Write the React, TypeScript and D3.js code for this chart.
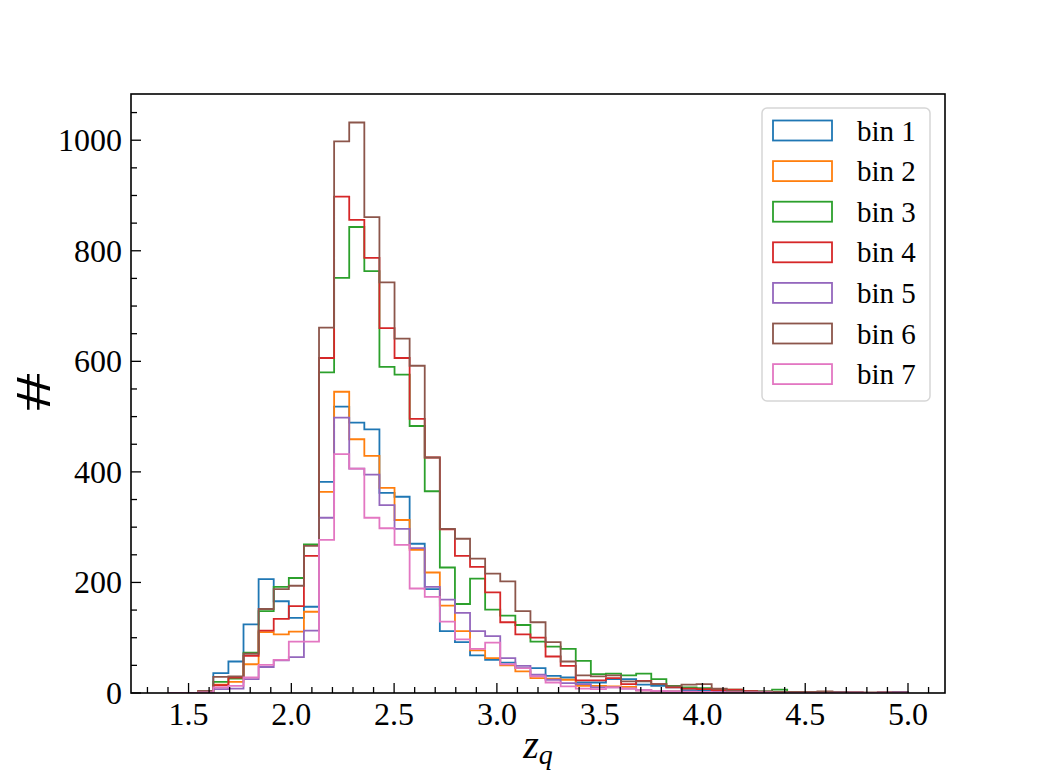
import React, { useEffect, useRef } from 'react';
import * as d3 from 'd3';

// counts per z_q bin for each of the seven selection bins
const binLo = 1.4;
const binHi = 5.0;
const nBins = 49;

const bin1 = [0, 0, 1, 36, 57, 124, 206, 166, 136, 156, 382, 518, 489, 477, 362, 355, 270, 188, 112, 92, 68, 60, 55, 45, 45, 31, 28, 19, 19, 25, 25, 15, 13, 10, 5, 5, 3, 4, 2, 2, 1, 1, 1, 0, 1, 0, 0, 0, 0];
const bin2 = [0, 0, 4, 15, 20, 52, 110, 106, 111, 147, 364, 545, 459, 429, 371, 313, 259, 218, 158, 112, 77, 63, 50, 39, 27, 26, 24, 13, 13, 12, 11, 5, 3, 3, 2, 2, 1, 1, 1, 0, 1, 0, 0, 0, 0, 0, 0, 0, 0];
const bin3 = [0, 0, 2, 20, 26, 73, 148, 192, 208, 269, 580, 751, 843, 763, 590, 576, 483, 365, 227, 161, 207, 151, 140, 123, 93, 84, 80, 58, 34, 35, 32, 35, 25, 13, 10, 9, 5, 6, 4, 3, 6, 2, 1, 1, 1, 0, 0, 0, 0];
const bin4 = [0, 0, 1, 14, 28, 67, 113, 134, 157, 248, 606, 898, 856, 787, 660, 606, 496, 426, 296, 248, 228, 182, 128, 106, 100, 66, 49, 23, 23, 27, 16, 22, 16, 10, 8, 7, 5, 6, 4, 2, 2, 1, 1, 1, 1, 1, 0, 1, 1];
const bin5 = [0, 0, 1, 7, 8, 25, 47, 59, 65, 113, 317, 498, 406, 395, 340, 297, 262, 192, 169, 145, 112, 103, 63, 49, 33, 24, 18, 16, 10, 10, 8, 5, 4, 3, 3, 2, 2, 1, 1, 1, 1, 1, 1, 1, 1, 1, 0, 1, 2];
const bin6 = [0, 0, 4, 29, 30, 71, 152, 188, 194, 266, 661, 998, 1032, 861, 743, 641, 592, 426, 297, 279, 243, 216, 202, 148, 128, 92, 57, 32, 30, 32, 21, 21, 16, 12, 15, 16, 8, 4, 3, 3, 2, 2, 2, 3, 1, 1, 1, 1, 1];
const bin7 = [0, 0, 1, 10, 13, 28, 51, 60, 93, 93, 277, 432, 406, 317, 298, 268, 189, 174, 129, 97, 80, 91, 52, 45, 30, 19, 12, 8, 7, 10, 8, 5, 4, 3, 2, 2, 1, 1, 1, 1, 0, 0, 0, 0, 0, 0, 0, 0, 0];

const seriesNames = ['bin 1', 'bin 2', 'bin 3', 'bin 4', 'bin 5', 'bin 6', 'bin 7'];
const seriesCounts = [bin1, bin2, bin3, bin4, bin5, bin6, bin7];
const colors = ['#1f77b4', '#ff7f0e', '#2ca02c', '#d62728', '#9467bd', '#8c564b', '#e377c2'];

const xMajor = [1.5, 2.0, 2.5, 3.0, 3.5, 4.0, 4.5, 5.0];
const yMajor = [0, 200, 400, 600, 800, 1000];

const W = 1050;
const H = 780;
const M = { left: 131, right: 945, top: 94, bottom: 693 };
const FONT = '"Liberation Serif", "Times New Roman", serif';

export default function App() {
  const ref = useRef<SVGSVGElement>(null);

  useEffect(() => {
    const svg = d3.select(ref.current);
    svg.selectAll('*').remove();

    const edges = d3.range(nBins + 1).map((i) => binLo + (i * (binHi - binLo)) / nBins);
    const pad = 0.05 * (binHi - binLo);
    const yMax = d3.max(seriesCounts, (s) => d3.max(s)) as number;

    const x = d3.scaleLinear().domain([binLo - pad, binHi + pad]).range([M.left, M.right]);
    const y = d3.scaleLinear().domain([0, yMax * 1.05]).range([M.bottom, M.top]);

    svg.append('defs').append('clipPath').attr('id', 'plot-clip')
      .append('rect')
      .attr('x', M.left).attr('y', M.top)
      .attr('width', M.right - M.left).attr('height', M.bottom - M.top);

    const line = d3.line<[number, number]>()
      .x((d) => x(d[0]))
      .y((d) => y(d[1]));

    const hist = svg.append('g').attr('clip-path', 'url(#plot-clip)');
    seriesCounts.forEach((counts, k) => {
      const pts: [number, number][] = [[edges[0], 0]];
      counts.forEach((c, i) => {
        pts.push([edges[i], c]);
        pts.push([edges[i + 1], c]);
      });
      pts.push([edges[nBins], 0]);
      hist.append('path')
        .attr('d', line(pts))
        .attr('fill', 'none')
        .attr('stroke', colors[k])
        .attr('stroke-width', 1.8)
        .attr('stroke-linejoin', 'miter');
    });

    // inward ticks on the left and bottom spines
    const ticks = svg.append('g').attr('stroke', '#000').attr('stroke-width', 1.3);
    const xMinor = d3.range(13, 52).map((k) => k / 10).filter((v) => !xMajor.some((m) => Math.abs(m - v) < 1e-6));
    const yMinor = d3.range(0, 1100, 50).filter((v) => v % 200 !== 0 && y(v) > M.top);

    xMajor.forEach((v) => {
      ticks.append('line').attr('x1', x(v)).attr('x2', x(v)).attr('y1', M.bottom).attr('y2', M.bottom - 10);
    });
    xMinor.forEach((v) => {
      ticks.append('line').attr('x1', x(v)).attr('x2', x(v)).attr('y1', M.bottom).attr('y2', M.bottom - 6);
    });
    yMajor.forEach((v) => {
      ticks.append('line').attr('x1', M.left).attr('x2', M.left + 10).attr('y1', y(v)).attr('y2', y(v));
    });
    yMinor.forEach((v) => {
      ticks.append('line').attr('x1', M.left).attr('x2', M.left + 6).attr('y1', y(v)).attr('y2', y(v));
    });

    svg.append('rect')
      .attr('x', M.left).attr('y', M.top)
      .attr('width', M.right - M.left).attr('height', M.bottom - M.top)
      .attr('fill', 'none').attr('stroke', '#000').attr('stroke-width', 1.6);

    const labels = svg.append('g').attr('font-family', FONT).attr('font-size', 32).attr('fill', '#000');
    xMajor.forEach((v) => {
      labels.append('text')
        .attr('x', x(v)).attr('y', 725)
        .attr('text-anchor', 'middle')
        .text(d3.format('.1f')(v));
    });
    yMajor.forEach((v) => {
      labels.append('text')
        .attr('x', 122).attr('y', y(v) + 11)
        .attr('text-anchor', 'end')
        .text(d3.format('d')(v));
    });

    // axis titles
    const xl = svg.append('text')
      .attr('x', (M.left + M.right) / 2).attr('y', 758)
      .attr('text-anchor', 'middle')
      .attr('font-family', FONT).attr('font-style', 'italic');
    xl.append('tspan').attr('font-size', 40).text('z');
    xl.append('tspan').attr('font-size', 28).attr('dy', 6).text('q');

    // '#' set in a light serif, stretched to the wide TeX proportions
    svg.append('text')
      .attr('transform', 'translate(50,392) rotate(-90) scale(1.55,1)')
      .attr('text-anchor', 'middle')
      .attr('font-family', FONT)
      .attr('font-size', 50)
      .text('#');

    // legend
    const lg = svg.append('g');
    lg.append('rect')
      .attr('x', 762).attr('y', 108).attr('width', 168).attr('height', 293).attr('rx', 5)
      .attr('fill', '#fff').attr('fill-opacity', 0.8)
      .attr('stroke', '#d6d6d6').attr('stroke-width', 1.5);
    seriesNames.forEach((name, k) => {
      const cy = 130.5 + k * 40.6;
      lg.append('rect')
        .attr('x', 773).attr('y', cy - 10).attr('width', 59).attr('height', 20)
        .attr('fill', 'none').attr('stroke', colors[k]).attr('stroke-width', 1.8);
      lg.append('text')
        .attr('x', 857).attr('y', cy + 10)
        .attr('font-family', FONT).attr('font-size', 29)
        .text(name);
    });
  }, []);

  return (
    <svg
      ref={ref}
      width={W}
      height={H}
      style={{ position: 'absolute', left: 0, top: 0, background: '#fff' }}
    />
  );
}
